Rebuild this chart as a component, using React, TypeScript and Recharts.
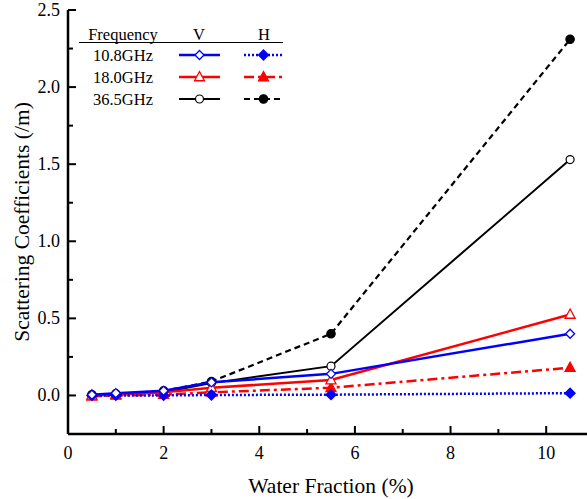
import React from "react";
import {
  LineChart,
  Line,
  XAxis,
  YAxis,
  Legend,
  Label,
} from "recharts";

const FONT = '"Liberation Serif", "Times New Roman", serif';

// water fraction (%) for every measurement
const waterFraction = [0.5, 1, 2, 3, 5.5, 10.5];

// scattering coefficients (/m)
const v108 = [0.005, 0.015, 0.03, 0.085, 0.14, 0.4];
const h108 = [0.0, 0.0, 0.0, 0.003, 0.005, 0.015];
const v180 = [0.0, 0.005, 0.02, 0.05, 0.1, 0.525];
const h180 = [-0.005, 0.0, 0.005, 0.02, 0.05, 0.18];
const v365 = [0.0, 0.01, 0.02, 0.08, 0.19, 1.53];
const h365 = [0.005, 0.01, 0.03, 0.09, 0.4, 2.31];

const xTicks = [0, 1, 2, 3, 4, 5, 6, 7, 8, 9, 10, 11];
const yTicks = [0, 0.25, 0.5, 0.75, 1, 1.25, 1.5, 1.75, 2, 2.25, 2.5];

const data = waterFraction.map((x, i) => ({
  x,
  v108: v108[i],
  h108: h108[i],
  v180: v180[i],
  h180: h180[i],
  v365: v365[i],
  h365: h365[i],
}));

type Shape = "diamond" | "triangle" | "circle";

interface SeriesDef {
  key: string;
  color: string;
  width: number;
  dash?: string;
  shape: Shape;
  filled: boolean;
}

// drawn back to front
const series: SeriesDef[] = [
  { key: "h365", color: "#000000", width: 2.2, dash: "6 4", shape: "circle", filled: true },
  { key: "v365", color: "#000000", width: 2, shape: "circle", filled: false },
  { key: "h180", color: "#ff0000", width: 2.5, dash: "10 4 3 4", shape: "triangle", filled: true },
  { key: "v180", color: "#ff0000", width: 2.5, shape: "triangle", filled: false },
  { key: "h108", color: "#0000ff", width: 2.5, dash: "2 2", shape: "diamond", filled: true },
  { key: "v108", color: "#0000ff", width: 2.5, shape: "diamond", filled: false },
];

const legendRows = [
  { label: "10.8GHz", v: "v108", h: "h108" },
  { label: "18.0GHz", v: "v180", h: "h180" },
  { label: "36.5GHz", v: "v365", h: "h365" },
];

function Marker({ cx, cy, shape, filled, color }: { cx: number; cy: number; shape: Shape; filled: boolean; color: string }) {
  const fill = filled ? color : "#ffffff";
  if (shape === "diamond") {
    const s = filled ? 5 : 4.5;
    return (
      <polygon
        points={`${cx},${cy - s} ${cx + s},${cy} ${cx},${cy + s} ${cx - s},${cy}`}
        fill={fill}
        stroke={color}
        strokeWidth={1.3}
      />
    );
  }
  if (shape === "triangle") {
    const s = 5;
    return (
      <polygon
        points={`${cx},${cy - s - 0.5} ${cx + s},${cy + s * 0.75} ${cx - s},${cy + s * 0.75}`}
        fill={fill}
        stroke={color}
        strokeWidth={1.3}
      />
    );
  }
  return <circle cx={cx} cy={cy} r={filled ? 4.2 : 4} fill={fill} stroke={color} strokeWidth={1.2} />;
}

const BottomTick = (props: any) => {
  const { x, y, payload } = props;
  const v = payload.value as number;
  const major = v % 2 === 0;
  return (
    <g>
      <line x1={x} x2={x} y1={y} y2={y - (major ? 8 : 5)} stroke="#000" strokeWidth={2} />
      {major && v <= 10 && (
        <text x={x} y={y + 25} textAnchor="middle" fontFamily={FONT} fontSize={18} fill="#000">
          {v}
        </text>
      )}
    </g>
  );
};

const LeftTick = (props: any) => {
  const { x, y, payload } = props;
  const v = payload.value as number;
  const major = Math.round(v * 4) % 2 === 0;
  return (
    <g>
      <line x1={x} x2={x + (major ? 8 : 5)} y1={y} y2={y} stroke="#000" strokeWidth={2} />
      {major && (
        <text x={x - 8} y={y + 6} textAnchor="end" fontFamily={FONT} fontSize={18} fill="#000">
          {v.toFixed(1)}
        </text>
      )}
    </g>
  );
};

const RightTick = (props: any) => {
  const { x, y, payload } = props;
  const v = payload.value as number;
  const major = Math.round(v * 4) % 2 === 0;
  return <line x1={x} x2={x - (major ? 8 : 5)} y1={y} y2={y} stroke="#000" strokeWidth={2} />;
};

const renderLegend = () => {
  const byKey: Record<string, SeriesDef> = {};
  series.forEach((s) => (byKey[s.key] = s));
  const rowY = [55, 77, 99];
  const sample = (s: SeriesDef, x1: number, x2: number, y: number) => (
    <g>
      <line x1={x1} x2={x2} y1={y} y2={y} stroke={s.color} strokeWidth={s.width} strokeDasharray={s.dash} />
      <Marker cx={(x1 + x2) / 2} cy={y} shape={s.shape} filled={s.filled} color={s.color} />
    </g>
  );
  return (
    <svg width={300} height={110} style={{ display: "block" }}>
      <g fontFamily={FONT} fontSize={16.5} fill="#000">
        <text x={123} y={40} textAnchor="middle">Frequency</text>
        <text x={199} y={40} textAnchor="middle">V</text>
        <text x={264} y={40} textAnchor="middle">H</text>
      </g>
      <line x1={79} x2={283} y1={42.5} y2={42.5} stroke="#000" strokeWidth={1} />
      {legendRows.map((r, i) => (
        <g key={r.label}>
          <text x={123} y={rowY[i] + 6} textAnchor="middle" fontFamily={FONT} fontSize={16.5} fill="#000">
            {r.label}
          </text>
          {sample(byKey[r.v], 179, 220, rowY[i])}
          {sample(byKey[r.h], 244, 283, rowY[i])}
        </g>
      ))}
    </svg>
  );
};

export default function App() {
  return (
    <div style={{ position: "absolute", left: 0, top: 0, width: 587, height: 499, overflow: "hidden", background: "#fff" }}>
      <LineChart width={600} height={499} data={data} margin={{ top: 10, right: 6, left: 0, bottom: 0 }}>
        <XAxis
          dataKey="x"
          type="number"
          domain={[0, 11]}
          ticks={xTicks}
          interval={0}
          height={65}
          tickSize={0}
          tickMargin={0}
          tickLine={false}
          tick={<BottomTick />}
          axisLine={{ stroke: "#000", strokeWidth: 2.5 }}
        >
          <Label
            value="Water Fraction (%)"
            position="insideBottom"
            offset={6}
            style={{ fontFamily: FONT, fontSize: 21.5, fill: "#000" }}
          />
        </XAxis>
        <XAxis
          xAxisId="top"
          orientation="top"
          dataKey="x"
          type="number"
          domain={[0, 11]}
          height={0}
          tick={false}
          tickLine={false}
          axisLine={{ stroke: "#000", strokeWidth: 2.5 }}
        />
        <YAxis
          type="number"
          domain={[-0.25, 2.5]}
          ticks={yTicks}
          interval={0}
          width={68}
          tickSize={0}
          tickMargin={0}
          tickLine={false}
          tick={<LeftTick />}
          axisLine={{ stroke: "#000", strokeWidth: 2.5 }}
        >
          <Label
            value="Scattering Coefficients (/m)"
            angle={-90}
            position="insideLeft"
            offset={21}
            style={{ fontFamily: FONT, fontSize: 21.5, fill: "#000", textAnchor: "middle" }}
          />
        </YAxis>
        <YAxis
          yAxisId="right"
          orientation="right"
          type="number"
          domain={[-0.25, 2.5]}
          ticks={yTicks}
          interval={0}
          width={0}
          tickSize={0}
          tickMargin={0}
          tickLine={false}
          tick={<RightTick />}
          axisLine={{ stroke: "#000", strokeWidth: 2.5 }}
        />
        <Legend
          layout="vertical"
          align="center"
          verticalAlign="middle"
          content={renderLegend}
          wrapperStyle={{ position: "absolute", left: 0, top: 0, width: 300, height: 110 }}
        />
        {series.map((s) => (
          <Line
            key={s.key}
            dataKey={s.key}
            stroke={s.color}
            strokeWidth={s.width}
            strokeDasharray={s.dash}
            isAnimationActive={false}
            dot={(p: any) => (
              <Marker key={`${s.key}-${p.index}`} cx={p.cx} cy={p.cy} shape={s.shape} filled={s.filled} color={s.color} />
            )}
            activeDot={false}
          />
        ))}
      </LineChart>
    </div>
  );
}
